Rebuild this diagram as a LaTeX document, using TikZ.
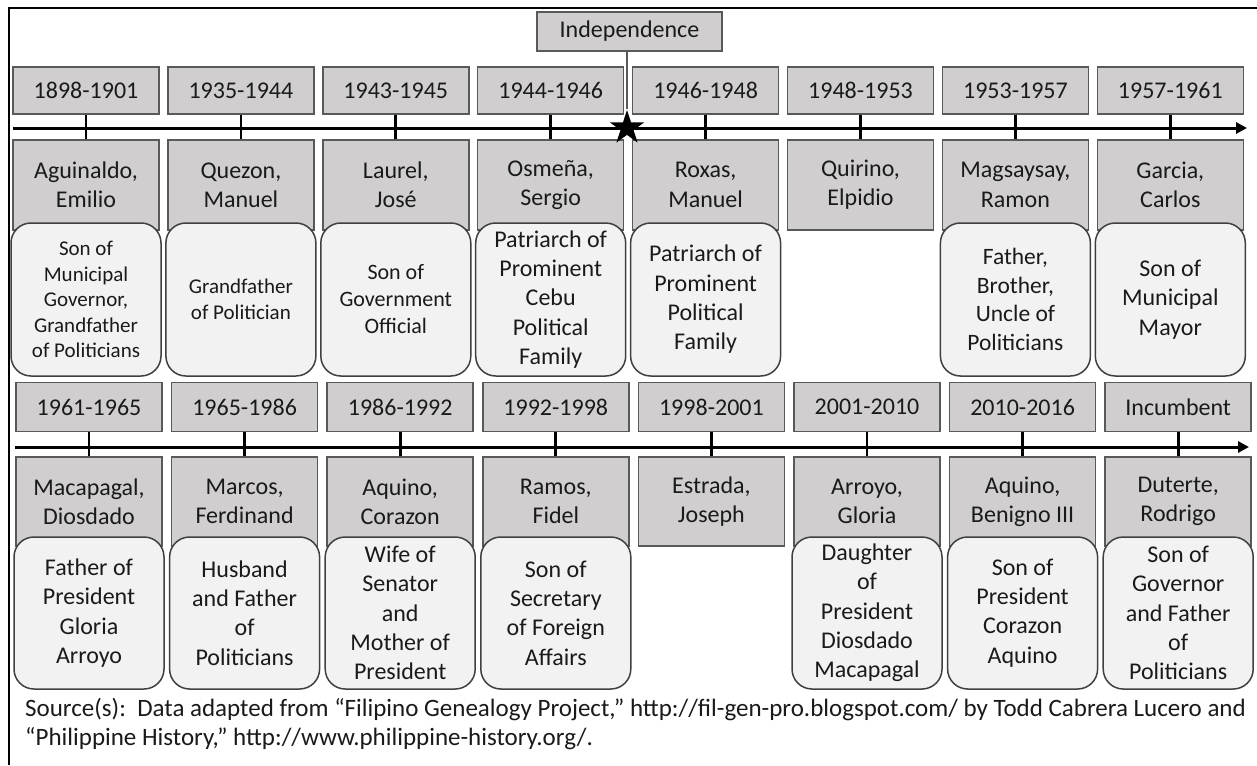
\documentclass[tikz,border=0pt]{standalone}
\usepackage{fontspec}
\setmainfont{Carlito}
\usetikzlibrary{arrows.meta,shapes.geometric}
\definecolor{boxgray}{HTML}{D0CECE}
\definecolor{boxline}{HTML}{595959}
\definecolor{descfill}{HTML}{F2F2F2}
\definecolor{descline}{HTML}{404040}
\definecolor{txt}{HTML}{1A1A1A}
\newcommand\fsA{\fontsize{24}{29.3}\selectfont}
\newcommand\fsB{\fontsize{21}{25.6}\selectfont}
\newcommand\fsC{\fontsize{22}{27}\selectfont}
\newcommand\fsD{\fontsize{23.5}{28.6}\selectfont}
\newcommand\fsS{\fontsize{25}{30}\selectfont}
\tikzset{
  datebox/.style={draw=boxline, line width=1.5, fill=boxgray, minimum width=146, minimum height=47, inner sep=0, font=\fsA, text=txt},
  namebox/.style={draw=boxline, line width=1.5, fill=boxgray, minimum width=146, minimum height=90, inner sep=0, align=center, font=\fsA, text=txt},
  descbox/.style={draw=descline, line width=1.5, fill=descfill, rounded corners=20, minimum width=150, minimum height=153, inner sep=0, align=center, font=\fsA, text=txt},
  tickline/.style={line width=2.8, black},
  axisline/.style={line width=3, black, -{Triangle[length=11, width=11]}},
}
\newcommand\topcol[4]{%
  \node[datebox] (d#1) at (#2,90.5) {#3};
  \node[namebox] (n#1) at (#2,185) {#4};
}
\newcommand\botcol[4]{%
  \node[datebox, minimum height=49] (d#1) at (#2,407) {#3};
  \node[namebox, minimum height=89] (n#1) at (#2,501.5) {#4};
}
\begin{document}
\begin{tikzpicture}[x=1pt, y=-1pt]
\useasboundingbox (0,0) rectangle (1257,765);
\fill[white] (0,0) rectangle (1257,765);
% frame (top and left sides visible)
\draw[line width=2.6, black] (9,765) -- (9,8) -- (1257,8);

% top row
\topcol{1}{86}{1898-1901}{Aguinaldo,\\Emilio}
\topcol{2}{240.9}{1935-1944}{Quezon,\\Manuel}
\topcol{3}{395.8}{1943-1945}{Laurel,\\José}
\topcol{4}{550.7}{1944-1946}{Osmeña,\\Sergio}
\topcol{5}{705.6}{1946-1948}{Roxas,\\Manuel}
\topcol{6}{860.5}{1948-1953}{Quirino,\\Elpidio}
\topcol{7}{1015.4}{1953-1957}{Magsaysay,\\Ramon}
\topcol{8}{1170.3}{1957-1961}{Garcia,\\Carlos}

\node[descbox, font=\fsB] (e1) at (86,299.5) {Son of\\Municipal\\Governor,\\Grandfather\\of Politicians};
\node[descbox, font=\fsB] (e2) at (240.9,299.5) {Grandfather\\of Politician};
\node[descbox, font=\fsC] (e3) at (395.8,299.5) {Son of\\Government\\Official};
\node[descbox] (e4) at (550.7,299.5) {Patriarch of\\Prominent\\Cebu\\Political\\Family};
\node[descbox] (e5) at (705.6,299.5) {Patriarch of\\Prominent\\Political\\Family};
\node[descbox, font=\fsD] (e7) at (1015.4,299.5) {Father,\\Brother,\\Uncle of\\Politicians};
\node[descbox] (e8) at (1170.3,299.5) {Son of\\Municipal\\Mayor};

% top axis
\coordinate (ta) at (13,128);
\coordinate (tb) at (1247,128);
\draw[axisline] (ta) -- (tb);
\foreach \i in {1,...,8} { \draw[tickline] (d\i.south) -- (n\i.north); }

% independence
\node[draw=boxline, line width=1.5, fill=boxgray, minimum width=185, minimum height=39, inner sep=0, font=\fsA, text=txt] (indep) at (629.5,31.5) {Independence};
\node[star, star points=5, star point ratio=2.618, fill=black, minimum size=36, inner sep=0] (star) at (627,128) {};
\draw[line width=1.2, boxline] (indep.south -| star.center) -- (star.north);

% bottom row
\botcol{9}{89}{1961-1965}{Macapagal,\\Diosdado}
\botcol{10}{244.6}{1965-1986}{Marcos,\\Ferdinand}
\botcol{11}{400.2}{1986-1992}{Aquino,\\Corazon}
\botcol{12}{555.8}{1992-1998}{Ramos,\\Fidel}
\botcol{13}{711.4}{1998-2001}{Estrada,\\Joseph}
\botcol{14}{867}{2001-2010}{Arroyo,\\Gloria}
\botcol{15}{1022.6}{2010-2016}{Aquino,\\Benigno III}
\botcol{16}{1178.2}{Incumbent}{Duterte,\\Rodrigo}

\node[descbox, minimum height=152] (e9) at (89,613) {Father of\\President\\Gloria\\Arroyo};
\node[descbox, minimum height=152] (e10) at (244.6,613) {Husband\\and Father\\of\\Politicians};
\node[descbox, minimum height=152] (e11) at (400.2,613) {Wife of\\Senator\\and\\Mother of\\President};
\node[descbox, minimum height=152] (e12) at (555.8,613) {Son of\\Secretary\\of Foreign\\Affairs};
\node[descbox, minimum height=152] (e14) at (867,613) {Daughter\\of\\President\\Diosdado\\Macapagal};
\node[descbox, minimum height=152] (e15) at (1022.6,613) {Son of\\President\\Corazon\\Aquino};
\node[descbox, minimum height=152] (e16) at (1178.2,613) {Son of\\Governor\\and Father\\of\\Politicians};

% bottom axis
\coordinate (ba) at (15,447);
\coordinate (bb) at (1249,447);
\draw[axisline] (ba) -- (bb);
\foreach \i in {9,...,16} { \draw[tickline] (d\i.south) -- (n\i.north); }

% source
\node[anchor=base west, font=\fsS, text=txt, inner sep=0] (src1) at (25,716) {Source(s):\ \ Data adapted from “Filipino Genealogy Project,” http://fil-gen-pro.blogspot.com/ by Todd Cabrera Lucero and};
\node[anchor=base west, font=\fsS, text=txt, inner sep=0] (src2) at (25,745) {“Philippine History,” http://www.philippine-history.org/.};
\end{tikzpicture}
\end{document}
